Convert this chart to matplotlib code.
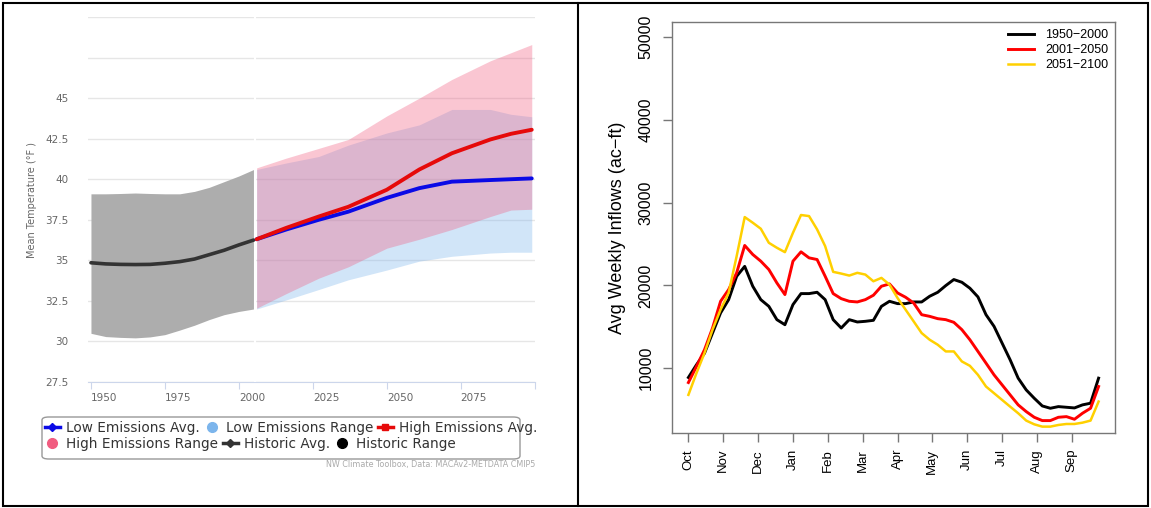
import numpy as np
import matplotlib
matplotlib.use('Agg')
import matplotlib.pyplot as plt
from matplotlib.lines import Line2D
from matplotlib.patches import Rectangle, FancyBboxPatch

# ---- left panel: mean temperature projections ----
hist_years = [1950, 1955, 1960, 1965, 1970, 1975, 1980, 1985, 1990, 1995, 2000, 2005]
hist_avg = [34.85, 34.78, 34.75, 34.74, 34.75, 34.82, 34.92, 35.08, 35.35, 35.62, 35.95, 36.25]
hist_lo = [30.5, 30.3, 30.25, 30.22, 30.28, 30.42, 30.7, 31.0, 31.35, 31.65, 31.85, 32.0]
hist_hi = [39.1, 39.1, 39.12, 39.15, 39.12, 39.1, 39.1, 39.25, 39.5, 39.85, 40.2, 40.6]

fut_years = [2006, 2016, 2027, 2037, 2050, 2061, 2072, 2085, 2092, 2099]
low_avg = [36.3, 36.9, 37.5, 38.0, 38.85, 39.45, 39.85, 39.95, 40.0, 40.05]
low_lo = [32.0, 32.56, 33.2, 33.8, 34.4, 34.95, 35.25, 35.45, 35.5, 35.5]
low_hi = [40.6, 41.0, 41.4, 42.1, 42.85, 43.35, 44.3, 44.3, 44.0, 43.85]
high_avg = [36.3, 37.0, 37.7, 38.3, 39.35, 40.6, 41.6, 42.45, 42.8, 43.05]
high_lo = [32.05, 32.95, 33.9, 34.6, 35.75, 36.3, 36.9, 37.7, 38.1, 38.15]
high_hi = [40.7, 41.3, 41.9, 42.45, 43.9, 45.0, 46.15, 47.3, 47.8, 48.3]

year_ticks = [1950, 1975, 2000, 2025, 2050, 2075, 2100]
temp_ticks = [27.5, 30, 32.5, 35, 37.5, 40, 42.5, 45, 47.5, 50]

# ---- right panel: weekly inflows ----
months = ['Oct', 'Nov', 'Dec', 'Jan', 'Feb', 'Mar', 'Apr', 'May', 'Jun', 'Jul', 'Aug', 'Sep']
weeks = np.arange(1, 53)
flow_1950_2000 = [8870, 10400, 11800, 14240, 16670, 18280, 21100, 22300, 19900, 18280,
                  17470, 15860, 15250, 17680, 19010, 19010, 19170, 18280, 15860, 14850,
                  15860, 15580, 15660, 15780, 17470, 18080, 17800, 17800, 18000, 18000,
                  18690, 19170, 19980, 20710, 20380, 19660, 18610, 16460, 15050, 13030,
                  11010, 8790, 7370, 6360, 5430, 5150, 5350, 5270, 5190, 5560,
                  5760, 8790]
flow_2001_2050 = [8260, 10200, 12220, 14850, 18080, 19490, 21520, 24830, 23740, 22930,
                  21920, 20300, 18890, 22930, 24060, 23330, 23130, 21110, 19010, 18400,
                  18080, 18000, 18280, 18810, 19900, 20180, 19090, 18570, 17880, 16460,
                  16260, 15980, 15860, 15540, 14650, 13430, 12020, 10610, 9190, 7980,
                  6770, 5560, 4750, 4060, 3660, 3660, 4060, 4140, 3820, 4550,
                  5150, 7780]
flow_2051_2100 = [6770, 9390, 11820, 14650, 17070, 19090, 23540, 28260, 27580, 26850,
                  25150, 24550, 24020, 26360, 28510, 28380, 26770, 24750, 21640, 21430,
                  21190, 21520, 21310, 20500, 20910, 20100, 18480, 17070, 15660, 14240,
                  13430, 12830, 12020, 12020, 10810, 10280, 9190, 7780, 6970, 6160,
                  5350, 4550, 3660, 3210, 2930, 2930, 3130, 3250, 3250, 3410,
                  3660, 5960]
flow_ticks = [10000, 20000, 30000, 40000, 50000]

W, H = 1151, 508
fig = plt.figure(figsize=(W / 100, H / 100), dpi=100)
fig.patch.set_facecolor('white')

# ================= left chart =================
ax1 = fig.add_axes([88 / W, 126 / H, 447 / W, 365 / H])
ax1.fill_between(hist_years, hist_lo, hist_hi, color='#adadad', lw=0, zorder=2)
ax1.fill_between(fut_years, low_lo, low_hi, color='#7cb5ec', alpha=0.35, lw=0, zorder=2)
ax1.fill_between(fut_years, high_lo, high_hi, color='#f15c80', alpha=0.35, lw=0, zorder=3)
ax1.axvline((hist_years[-1] + fut_years[0]) / 2, color='white', lw=1.5, zorder=4)
ax1.plot(hist_years, hist_avg, color='#333333', lw=2.6, zorder=5, solid_capstyle='round')
ax1.plot(fut_years, low_avg, color='#0a0ae6', lw=2.8, zorder=6, solid_capstyle='round')
ax1.plot(fut_years, high_avg, color='#e60a0a', lw=2.8, zorder=7, solid_capstyle='round')

ax1.set_xlim(1949, 2100.1)
ax1.set_ylim(27.5, 50)
ax1.set_yticks(temp_ticks)
ax1.set_yticklabels([('%g' % t) if t <= 45 else '' for t in temp_ticks])
ax1.set_xticks(year_ticks)
ax1.set_xticklabels([str(y) if y < 2100 else '' for y in year_ticks])
for lab in ax1.get_xticklabels():
    lab.set_ha('left')
ax1.yaxis.grid(True, color='#e6e6e6', lw=1, zorder=0)
ax1.set_axisbelow(True)
for s in ['left', 'top', 'right']:
    ax1.spines[s].set_visible(False)
ax1.spines['bottom'].set_color('#ccd6eb')
ax1.tick_params(axis='y', length=0, pad=14, labelsize=7.5, labelcolor='#666666')
ax1.tick_params(axis='x', length=5, color='#ccd6eb', pad=3, labelsize=7.5, labelcolor='#666666')
ax1.set_ylabel('Mean Temperature (°F )', fontsize=7, color='#666666')
ax1.yaxis.set_label_coords(-0.114, 0.5)

# legend (two rows, Highcharts-like flow)
row1 = [Line2D([], [], color='#0a0ae6', lw=2.5, marker='D', ms=4),
        Line2D([], [], ls='', marker='o', ms=7, color='#7cb5ec'),
        Line2D([], [], color='#e60a0a', lw=2.5, marker='s', ms=4)]
row2 = [Line2D([], [], ls='', marker='o', ms=7, color='#f15c80'),
        Line2D([], [], color='#333333', lw=2.5, marker='D', ms=4),
        Line2D([], [], ls='', marker='o', ms=7, color='black')]
lkw = dict(loc='center left', frameon=False, ncol=3, borderpad=0, borderaxespad=0,
           handlelength=1.1, handletextpad=0.45, columnspacing=0.35,
           prop={'family': 'DejaVu Sans', 'size': 9.8})
leg1 = fig.legend(row1, ['Low Emissions Avg.', 'Low Emissions Range', 'High Emissions Avg.'],
                  bbox_to_anchor=(45 / W, (H - 428) / H), **lkw)
leg2 = fig.legend(row2, ['High Emissions Range', 'Historic Avg.', 'Historic Range'],
                  bbox_to_anchor=(45 / W, (H - 444) / H), **lkw)
for lg in (leg1, leg2):
    for t in lg.get_texts():
        t.set_color('#333333')
fig.add_artist(FancyBboxPatch((42 / W, (H - 459) / H), 478 / W, 42 / H,
                              boxstyle='round,pad=0,rounding_size=0.006',
                              transform=fig.transFigure, fill=False,
                              edgecolor='#999999', lw=1))
fig.text(535 / W, (H - 465) / H, 'NW Climate Toolbox, Data: MACAv2-METDATA CMIP5',
         ha='right', va='center', fontsize=5.8, color='#aaaaaa')

# ================= right chart =================
ax2 = fig.add_axes([672 / W, 75 / H, 443 / W, 411 / H])
ax2.plot(weeks, flow_1950_2000, color='black', lw=2.1, label='1950\u22122000')
ax2.plot(weeks, flow_2001_2050, color='#ff0000', lw=2.1, label='2001\u22122050')
ax2.plot(weeks, flow_2051_2100, color='#ffd000', lw=1.8, label='2051\u22122100')
span = weeks[-1] - weeks[0]
ax2.set_xlim(weeks[0] - 0.04 * span, weeks[-1] + 0.04 * span)
ax2.set_ylim(4000 - 0.04 * 46000, 50000 + 0.04 * 46000)
ax2.set_xticks(weeks[0] + np.arange(12) * 52 / 12)
ax2.set_xticklabels(months, rotation=90, fontsize=9.5, family='Liberation Sans')
ax2.set_yticks(flow_ticks)
ax2.set_yticklabels([str(v) for v in flow_ticks], rotation=90, va='center',
                    fontsize=11.5, family='Liberation Sans')
for s in ax2.spines.values():
    s.set_color('#777777')
    s.set_linewidth(1)
ax2.tick_params(axis='both', length=6.5, color='#777777', width=1)
ax2.tick_params(axis='x', pad=5)
ax2.tick_params(axis='y', pad=7)
ax2.set_ylabel('Avg Weekly Inflows (ac\u2212ft)', fontsize=13, family='Liberation Sans')
ax2.yaxis.set_label_coords(-(672 - 626) / 443, 0.5)
leg = ax2.legend(loc='upper right', bbox_to_anchor=(1108 / W, (H - 29) / H),
                 bbox_transform=fig.transFigure, frameon=False, borderpad=0,
                 borderaxespad=0, handlelength=2.1, handletextpad=0.85,
                 labelspacing=0.25, prop={'family': 'Liberation Sans', 'size': 9})

# ---- panel borders ----
fig.add_artist(Rectangle((3 / W, 2 / H), 1145 / W, 503 / H, transform=fig.transFigure,
                         fill=False, edgecolor='black', lw=1.5))
fig.add_artist(Line2D([578 / W, 578 / W], [2 / H, 505 / H], transform=fig.transFigure,
                      color='black', lw=1.5))

fig.savefig('out.png', dpi=100)
